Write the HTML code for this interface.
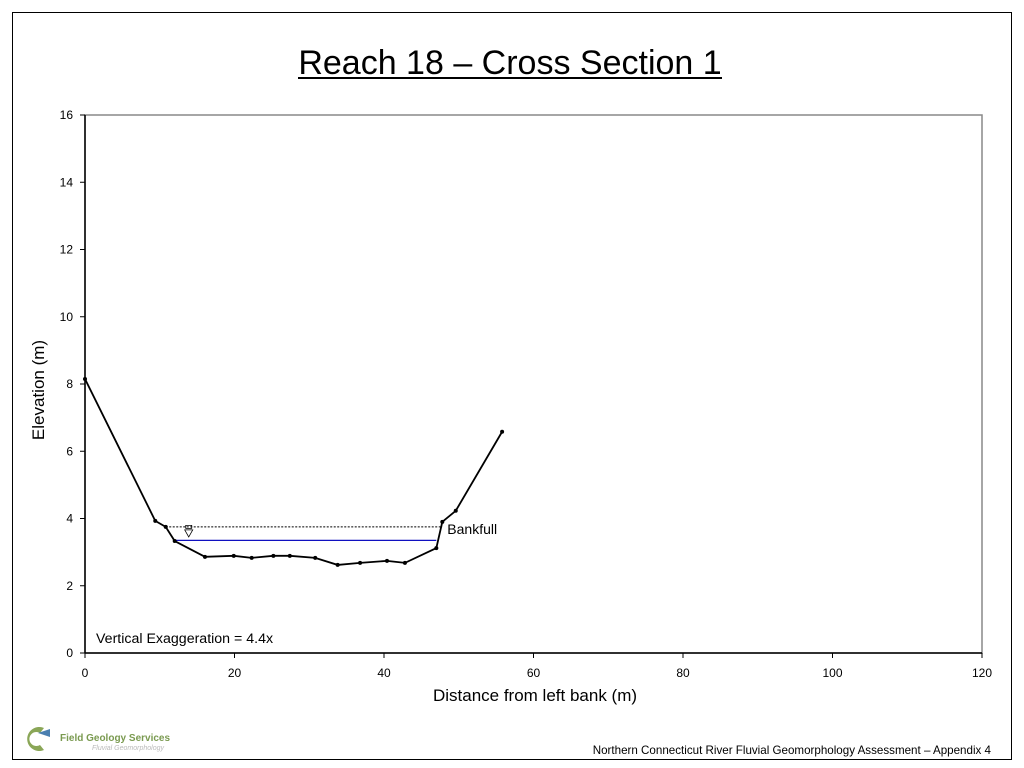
<!DOCTYPE html>
<html><head><meta charset="utf-8"><style>
body{margin:0;background:#fff;}
#w{position:relative;width:1024px;height:768px;overflow:hidden;font-family:"Liberation Sans",sans-serif;}
</style></head><body>
<div id="w">
<svg width="1024" height="768" xmlns="http://www.w3.org/2000/svg">
<rect x="12.5" y="12.5" width="999" height="747" fill="none" stroke="#000" stroke-width="1"/>
<text x="510" y="74" font-size="34" text-anchor="middle" font-family="Liberation Sans">Reach 18 – Cross Section 1</text>
<line x1="298" y1="78" x2="722" y2="78" stroke="#000" stroke-width="2"/>
<rect x="85" y="115" width="897" height="538" fill="none" stroke="#888" stroke-width="1.5"/>
<g id="axes"></g>
<g id="marks"></g>
<text x="44" y="390" font-size="17" text-anchor="middle" transform="rotate(-90 44 390)">Elevation (m)</text>
<text x="535" y="701" font-size="17" text-anchor="middle">Distance from left bank (m)</text>
<text x="96" y="643" font-size="14.2">Vertical Exaggeration = 4.4x</text>
<text x="991" y="754" font-size="11.6" text-anchor="end">Northern Connecticut River Fluvial Geomorphology Assessment – Appendix 4</text>
<g>
<path d="M44 728 A12 12 0 1 0 44 750 L40 745 A7 7 0 1 1 40 733 Z" fill="#8aa657"/>
<path d="M38 733 L50 729 L50 737 Z" fill="#4a7fb0"/>
<text x="60" y="741" font-size="10" fill="#7a9a50" font-weight="bold">Field Geology Services</text>
<text x="92" y="750" font-size="7" fill="#bbb" font-style="italic">Fluvial Geomorphology</text>
</g>
</svg>
</div>
<script>
const xTicks=[0,20,40,60,80,100,120];
const yTicks=[0,2,4,6,8,10,12,14,16];
const dist=[0,9.4,10.8,12.0,16.05,19.9,22.3,25.2,27.4,30.8,33.8,36.8,40.4,42.8,47.0,47.8,49.6,55.8];
const elev=[8.15,3.93,3.75,3.33,2.86,2.89,2.83,2.89,2.89,2.83,2.62,2.68,2.74,2.68,3.12,3.9,4.23,6.58];
const bankfull=[10.8,47.8,3.75];
const water=[12.0,47.0,3.35];
const NS="http://www.w3.org/2000/svg";
const X=v=>85+v*(897/120), Y=v=>653-v*(538/16);
const ax=document.getElementById('axes'), mk=document.getElementById('marks');
function el(t,a,p){const e=document.createElementNS(NS,t);for(const k in a)e.setAttribute(k,a[k]);p.appendChild(e);return e;}
xTicks.forEach(v=>{
 const t=el('line',{x1:X(v),x2:X(v),y1:653,y2:658,stroke:'#000'},ax);
 
 
 const l=el('text',{x:X(v),y:677,'font-size':12,'text-anchor':'middle'},ax);l.textContent=v;
 
 
});
yTicks.forEach(v=>{
 const t=el('line',{x1:80,x2:85,y1:Y(v),y2:Y(v),stroke:'#000'},ax);
 
 
 const l=el('text',{x:73,y:Y(v)+4,'font-size':12,'text-anchor':'end'},ax);l.textContent=v;
 
 
});
el('line',{x1:85,x2:85,y1:115,y2:653,stroke:'#000','stroke-width':1.5},ax);
el('line',{x1:85,x2:982,y1:653,y2:653,stroke:'#000','stroke-width':1.5},ax);
const bf=el('line',{x1:X(bankfull[0]),x2:X(bankfull[1]),y1:Y(bankfull[2]),y2:Y(bankfull[2]),stroke:'#000','stroke-dasharray':'2,1.5','stroke-width':1},mk);


const bl=el('text',{x:X(bankfull[1])+5,y:Y(bankfull[2])+7,'font-size':14},mk);bl.textContent='Bankfull';


const wl=el('line',{x1:X(water[0]),x2:X(water[1]),y1:Y(water[2]),y2:Y(water[2]),stroke:'#1010c0','stroke-width':1.3},mk);


const sx=X(bankfull[0])+23, sy=Y(bankfull[2]);
const ws=el('path',{d:`M${sx-4} ${sy+3} L${sx+4} ${sy+3} L${sx} ${sy+10} Z M${sx-3} ${sy-1.5} h6 v3 h-6 Z`,fill:'none',stroke:'#000','stroke-width':0.8},mk);


const pl=el('polyline',{points:dist.map((d,i)=>X(d)+','+Y(elev[i])).join(' '),fill:'none',stroke:'#000','stroke-width':1.8},mk);


dist.forEach((d,i)=>{
 const c=el('circle',{cx:X(d),cy:Y(elev[i]),r:2,fill:'#000'},mk);
 
 
});
</script>
</body></html>
